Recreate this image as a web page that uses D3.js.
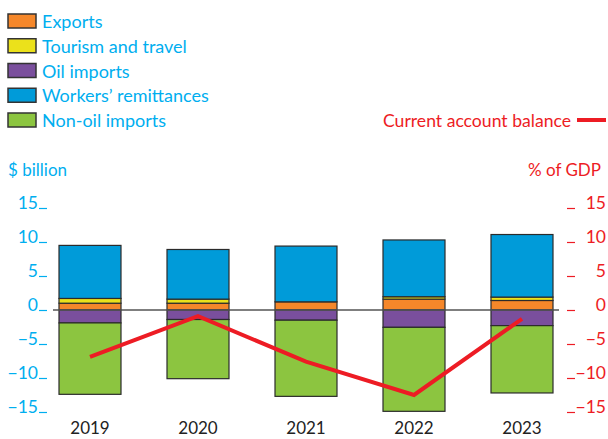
<!DOCTYPE html>
<html lang="en">
<head>
    <meta charset="UTF-8">
    <title>Balance of payments</title>
    <script src="https://cdn.jsdelivr.net/npm/d3@7"></script>
    <style>
        body { margin: 0; background: #fff; }
        svg text { font-family: Lato, "Open Sans", sans-serif; }
    </style>
</head>
<body>
<svg id="chart" width="608" height="439"></svg>
<script>
    var years = ["2019", "2020", "2021", "2022", "2023"];
    var exports = [1.0, 1.0, 1.2, 1.6, 1.4];
    var tourism = [0.7, 0.6, 0.0, 0.35, 0.5];
    var oilImports = [-1.9, -1.4, -1.5, -2.55, -2.3];
    var remittances = [7.8, 7.3, 8.2, 8.35, 9.2];
    var nonOilImports = [-10.5, -8.7, -11.2, -12.35, -9.9];
    var currentAccount = [-6.9, -0.9, -7.6, -12.5, -1.3];
    var tickValues = [15, 10, 5, 0, -5, -10, -15];

    var blueText = "#00aeef";
    var red = "#ed1c24";

    var series = [
        {key: "exports", label: "Exports", color: "#f5872a", values: exports},
        {key: "tourism", label: "Tourism and travel", color: "#ebe11b", values: tourism},
        {key: "oil", label: "Oil imports", color: "#7a4f9d", values: oilImports},
        {key: "remit", label: "Workers\u2019 remittances", color: "#009bd9", values: remittances},
        {key: "nonoil", label: "Non-oil imports", color: "#8cc540", values: nonOilImports}
    ];

    var rows = years.map(function (y, i) {
        var r = {year: y};
        series.forEach(function (s) { r[s.key] = s.values[i]; });
        return r;
    });

    var svg = d3.select("#chart");

    var x = d3.scaleBand().domain(years).range([36, 576])
        .paddingInner(0.426).paddingOuter(0.213);
    var y = d3.scaleLinear().domain([-15, 15]).range([412, 208]);

    var stacked = d3.stack()
        .keys(series.map(function (s) { return s.key; }))
        .offset(d3.stackOffsetDiverging)(rows);

    // bars
    stacked.forEach(function (layer, li) {
        svg.append("g").selectAll("rect")
            .data(layer)
            .join("rect")
            .attr("x", function (d) { return x(d.data.year); })
            .attr("y", function (d) { return y(Math.max(d[0], d[1])); })
            .attr("width", x.bandwidth())
            .attr("height", function (d) { return Math.abs(y(d[0]) - y(d[1])); })
            .attr("fill", series[li].color)
            .attr("stroke", "#2b2b2b")
            .attr("stroke-width", 1.2);
    });

    // zero line
    svg.append("line")
        .attr("x1", 53).attr("x2", 559)
        .attr("y1", y(0)).attr("y2", y(0))
        .attr("stroke", "#555").attr("stroke-width", 1.5);

    // left axis
    var left = svg.append("g").attr("transform", "translate(47,0)")
        .call(d3.axisLeft(y).tickValues(tickValues).tickSize(8).tickPadding(1));
    left.select(".domain").remove();
    left.selectAll("line").attr("stroke", blueText).attr("stroke-width", 1.2);
    left.selectAll("text").attr("dy", 0).attr("fill", blueText)
        .style("font-size", "17.5px");

    // right axis
    var right = svg.append("g").attr("transform", "translate(567,0)")
        .call(d3.axisRight(y).tickValues(tickValues).tickSize(8));
    right.select(".domain").remove();
    right.selectAll("line").attr("stroke", red).attr("stroke-width", 1.2)
        .attr("x1", 0).attr("x2", 8);
    right.selectAll("text").attr("dy", 0).attr("x", 39)
        .attr("text-anchor", "end").attr("fill", red)
        .style("font-size", "17.5px");

    // year labels
    svg.append("g").selectAll("text")
        .data(years)
        .join("text")
        .attr("x", function (d) { return x(d) + x.bandwidth() / 2; })
        .attr("y", 434)
        .attr("text-anchor", "middle")
        .attr("fill", "#222")
        .style("font-size", "17px")
        .text(function (d) { return d; });

    // current account line
    var line = d3.line()
        .x(function (d, i) { return x(years[i]) + x.bandwidth() / 2; })
        .y(function (d) { return y(d); });
    svg.append("path")
        .datum(currentAccount)
        .attr("d", line)
        .attr("fill", "none")
        .attr("stroke", red)
        .attr("stroke-width", 4);

    // axis titles
    svg.append("text").attr("x", 8).attr("y", 176)
        .attr("fill", blueText).style("font-size", "17px").text("$ billion");
    svg.append("text").attr("x", 601).attr("y", 176).attr("text-anchor", "end")
        .attr("fill", red).style("font-size", "17px").text("% of GDP");

    // legend
    var legend = svg.append("g").selectAll("g")
        .data(series)
        .join("g")
        .attr("transform", function (d, i) { return "translate(8," + (14 + i * 24.75) + ")"; });
    legend.append("rect")
        .attr("width", 28).attr("height", 14)
        .attr("fill", function (d) { return d.color; })
        .attr("stroke", "#333").attr("stroke-width", 1.5);
    legend.append("text")
        .attr("x", 34).attr("y", 14)
        .attr("fill", blueText)
        .style("font-size", "18px")
        .text(function (d) { return d.label; });

    svg.append("text").attr("x", 571).attr("y", 127).attr("text-anchor", "end")
        .attr("fill", red).style("font-size", "17.6px").text("Current account balance");
    svg.append("line").attr("x1", 577).attr("x2", 606).attr("y1", 120).attr("y2", 120)
        .attr("stroke", red).attr("stroke-width", 4);
</script>
</body>
</html>
